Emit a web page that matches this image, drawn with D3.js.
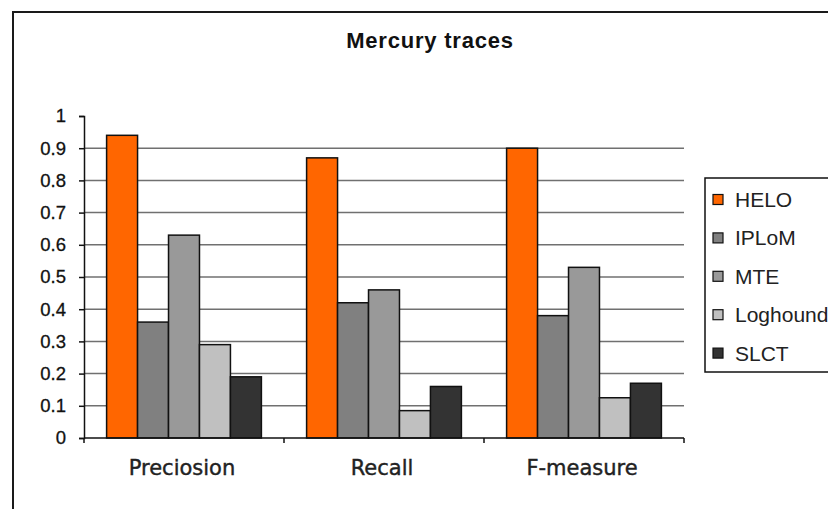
<!DOCTYPE html>
<html>
<head>
<meta charset="utf-8">
<script src="https://cdn.jsdelivr.net/npm/d3@7"></script>
<style>
  html, body { margin: 0; padding: 0; background: #fff; }
  svg { display: block; }
</style>
</head>
<body>
<svg id="chart" width="828" height="509"></svg>
<script>
// Chart data
const categories = ["Preciosion", "Recall", "F-measure"];
const seriesNames = ["HELO", "IPLoM", "MTE", "Loghound", "SLCT"];
const heloValues = [0.94, 0.87, 0.90];
const iplomValues = [0.36, 0.42, 0.38];
const mteValues = [0.63, 0.46, 0.53];
const loghoundValues = [0.29, 0.085, 0.125];
const slctValues = [0.19, 0.16, 0.17];
const yTicks = [0, 0.1, 0.2, 0.3, 0.4, 0.5, 0.6, 0.7, 0.8, 0.9, 1];
const seriesColors = ["#ff6600", "#808080", "#999999", "#c0c0c0", "#333333"];

const seriesValues = [heloValues, iplomValues, mteValues, loghoundValues, slctValues];
const rows = categories.map((c, i) => ({
  category: c,
  values: seriesNames.map((s, j) => ({ series: s, value: seriesValues[j][i] }))
}));

const svg = d3.select("#chart");

// Outer chart frame (runs past the right and bottom edges)
svg.append("rect")
  .attr("x", 13).attr("y", 12)
  .attr("width", 860).attr("height", 520)
  .attr("fill", "#fff")
  .attr("stroke", "#1a1a1a")
  .attr("stroke-width", 2);

// Title
svg.append("text")
  .attr("x", 430).attr("y", 48)
  .attr("text-anchor", "middle")
  .attr("font-family", "'Liberation Sans', Arial, sans-serif")
  .attr("font-weight", "bold")
  .attr("font-size", 22)
  .attr("letter-spacing", 0.8)
  .attr("fill", "#111")
  .text("Mercury traces");

// Plot area
const plot = { left: 84, right: 684, top: 116, bottom: 438 };

const y = d3.scaleLinear().domain([0, 1]).range([plot.bottom, plot.top]);
const x0 = d3.scaleBand().domain(categories).range([plot.left, plot.right]).padding(0);
const gap = x0.bandwidth() * 0.113;
const x1 = d3.scaleBand().domain(seriesNames).range([gap, x0.bandwidth() - gap]).padding(0);
const color = d3.scaleOrdinal().domain(seriesNames).range(seriesColors);

// Horizontal gridlines
svg.append("g")
  .selectAll("line")
  .data(yTicks.filter(t => t > 0 && t < 1))
  .join("line")
  .attr("x1", plot.left).attr("x2", plot.right)
  .attr("y1", d => y(d)).attr("y2", d => y(d))
  .attr("stroke", "#707070")
  .attr("stroke-width", 1.5);

// Bars
svg.append("g")
  .selectAll("g")
  .data(rows)
  .join("g")
  .attr("transform", d => `translate(${x0(d.category)},0)`)
  .selectAll("rect")
  .data(d => d.values)
  .join("rect")
  .attr("x", d => x1(d.series))
  .attr("y", d => y(d.value))
  .attr("width", x1.bandwidth())
  .attr("height", d => y(0) - y(d.value))
  .attr("fill", d => color(d.series))
  .attr("stroke", "#111")
  .attr("stroke-width", 1.5);

// Y axis
const yAxis = d3.axisLeft(y)
  .tickValues(yTicks)
  .tickFormat(d3.format("~g"))
  .tickSize(5)
  .tickPadding(13);
const yAxisG = svg.append("g")
  .attr("transform", `translate(${plot.left},0)`)
  .call(yAxis);
yAxisG.select(".domain").attr("stroke", "#111").attr("stroke-width", 1.5);
yAxisG.selectAll(".tick line").attr("stroke", "#111").attr("stroke-width", 1.5);
yAxisG.selectAll(".tick text")
  .attr("font-family", "'Liberation Sans', Arial, sans-serif")
  .attr("font-size", 18.5)
  .attr("fill", "#111")
  .attr("stroke", "#111")
  .attr("stroke-width", 0.3);

// X axis with ticks at category boundaries
const xAxisG = svg.append("g");
xAxisG.append("line")
  .attr("x1", plot.left).attr("x2", plot.right)
  .attr("y1", plot.bottom).attr("y2", plot.bottom)
  .attr("stroke", "#111").attr("stroke-width", 1.5);
const boundaries = categories.map(c => x0(c)).concat([x0(categories[categories.length - 1]) + x0.bandwidth()]);
xAxisG.selectAll("line.tk")
  .data(boundaries)
  .join("line")
  .attr("class", "tk")
  .attr("x1", d => d).attr("x2", d => d)
  .attr("y1", plot.bottom).attr("y2", plot.bottom + 5)
  .attr("stroke", "#111").attr("stroke-width", 1.5);
xAxisG.selectAll("text")
  .data(categories)
  .join("text")
  .attr("x", d => x0(d) + x0.bandwidth() / 2 - 2)
  .attr("y", 475)
  .attr("text-anchor", "middle")
  .attr("font-family", "'DejaVu Sans', Verdana, sans-serif")
  .attr("font-size", 21)
  .attr("fill", "#222")
  .attr("stroke", "#222")
  .attr("stroke-width", 0.4)
  .text(d => d);

// Legend
const legend = svg.append("g");
legend.append("rect")
  .attr("x", 705).attr("y", 178)
  .attr("width", 160).attr("height", 194)
  .attr("fill", "#fff")
  .attr("stroke", "#111")
  .attr("stroke-width", 1.5);
const items = legend.selectAll("g.item")
  .data(seriesNames)
  .join("g")
  .attr("class", "item")
  .attr("transform", (d, i) => `translate(713,${199.5 + i * 38.4})`);
items.append("rect")
  .attr("x", 0).attr("y", -5)
  .attr("width", 10).attr("height", 10)
  .attr("fill", d => color(d))
  .attr("stroke", "#111")
  .attr("stroke-width", 1.2);
items.append("text")
  .attr("x", 22).attr("y", 0)
  .attr("dy", "0.36em")
  .attr("font-family", "'Liberation Sans', Arial, sans-serif")
  .attr("font-size", 21)
  .attr("fill", "#222")
  .text(d => d);
</script>
</body>
</html>
